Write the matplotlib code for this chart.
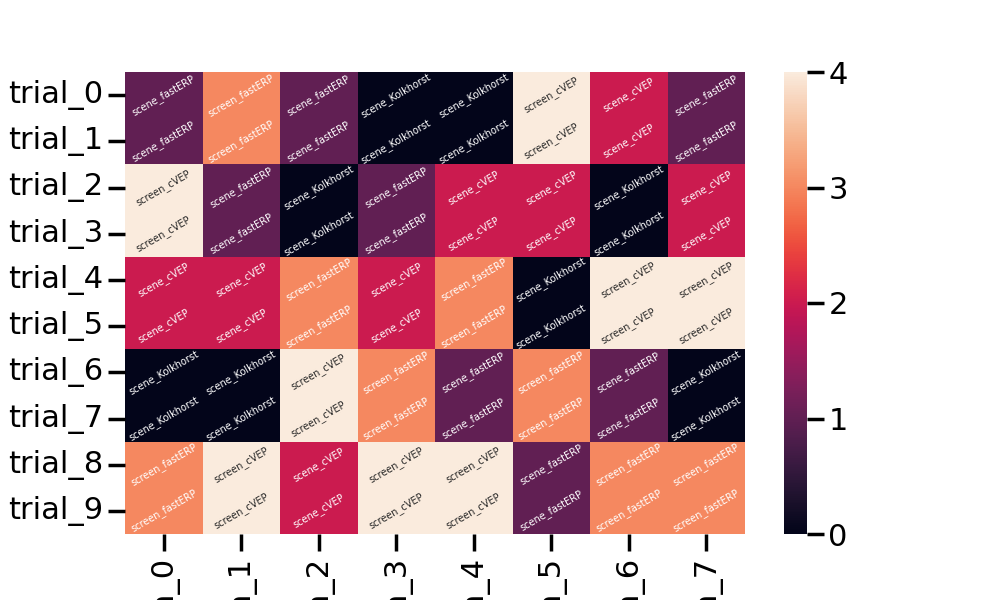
import numpy as np
import matplotlib
matplotlib.use("Agg")
import matplotlib.pyplot as plt
import seaborn as sns

sns.set_context("poster")

# condition codes per trial (rows) and run (columns)
conditions = ["scene_Kolkhorst", "scene_fastERP", "scene_cVEP", "screen_fastERP", "screen_cVEP"]
trials = [f"trial_{i}" for i in range(10)]
runs = [f"run_{i}" for i in range(8)]

row_01 = [1, 3, 1, 0, 0, 4, 2, 1]
row_23 = [4, 1, 0, 1, 2, 2, 0, 2]
row_45 = [2, 2, 3, 2, 3, 0, 4, 4]
row_67 = [0, 0, 4, 3, 1, 3, 1, 0]
row_89 = [3, 4, 2, 4, 4, 1, 3, 3]

codes = np.array([row_01, row_01, row_23, row_23, row_45,
                  row_45, row_67, row_67, row_89, row_89])
labels = np.array([[conditions[c] for c in row] for row in codes])

fig, ax = plt.subplots(figsize=(10, 6), dpi=100)
sns.heatmap(codes, annot=labels, fmt="", ax=ax,
            xticklabels=runs, yticklabels=trials,
            annot_kws={"fontsize": 7, "rotation": 30})
ax.set_yticklabels(trials, rotation=0)
ax.set_xticklabels(runs, rotation=90)

fig.savefig("out.png", dpi=100)
